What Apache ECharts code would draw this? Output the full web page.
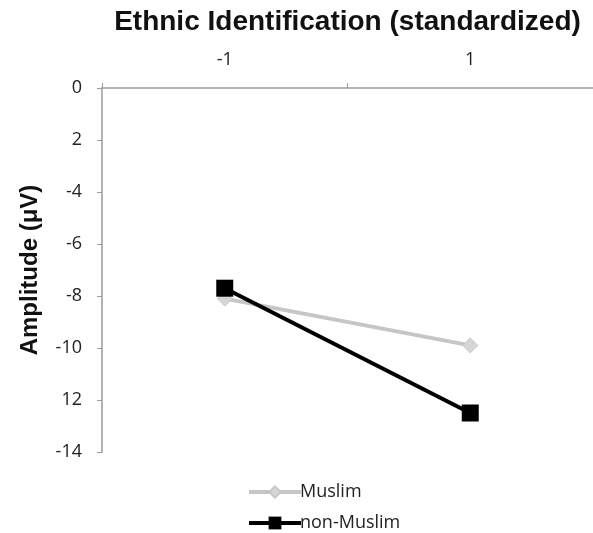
<!DOCTYPE html>
<html><head><meta charset="utf-8">
<script src="https://cdn.jsdelivr.net/npm/echarts@6/dist/echarts.min.js"></script>
<style>html,body{margin:0;padding:0;background:#fff}#c{width:593px;height:533px}</style>
</head><body><div id="c"></div>
<script>
var categories = ['-1', '1'];
var muslim = [-8.1, -9.9];
var nonMuslim = [-7.7, -12.5];
var yTickLabels = {'0':'0','-2':'2','-4':'-4','-6':'-6','-8':'-8','-10':'-10','-12':'12','-14':'-14'};

var legendText = {fontFamily: 'Open Sans', fontSize: 18, color: '#222', padding: [0,0,0,-6]};
var chart = echarts.init(document.getElementById('c'));
chart.setOption({
  animation: false,
  grid: {left: 102, right: 0, top: 88, bottom: 81, outerBoundsMode: 'none', containLabel: false},
  legend: [
    {left: 242, top: 478, itemWidth: 52, itemHeight: 14, itemGap: 4, textStyle: legendText, lineStyle: {width: 4}, data: ['Muslim']},
    {left: 242, top: 509, itemWidth: 52, itemHeight: 16, itemGap: 4, textStyle: legendText, lineStyle: {width: 4}, data: ['non-Muslim']}
  ],
  xAxis: {
    type: 'category', position: 'top', data: categories,
    name: 'Ethnic Identification (standardized)', nameLocation: 'middle', nameGap: 52,
    nameTextStyle: {fontFamily: 'Liberation Sans', fontWeight: 'bold', fontSize: 28, color: '#111'},
    axisLine: {lineStyle: {color: '#9a9a9a', width: 1.5}},
    axisTick: {show: true, length: 5, lineStyle: {color: '#9a9a9a'}},
    axisLabel: {fontFamily: 'Open Sans', fontSize: 18, color: '#222', margin: 19}
  },
  yAxis: {
    type: 'value', min: -14, max: 0, interval: 2,
    name: 'Amplitude (μV)', nameLocation: 'middle', nameGap: 60, nameRotate: 90,
    nameTextStyle: {fontFamily: 'Liberation Sans', fontWeight: 'bold', fontSize: 24, color: '#111'},
    axisLine: {show: true, lineStyle: {color: '#9a9a9a', width: 1.5}},
    axisTick: {show: true, length: 5, lineStyle: {color: '#9a9a9a'}},
    splitLine: {show: false},
    axisLabel: {fontFamily: 'Open Sans', fontSize: 18, color: '#222', margin: 20,
      formatter: function (v) { return yTickLabels[String(v)] !== undefined ? yTickLabels[String(v)] : String(v); }}
  },
  series: [
    {name: 'Muslim', type: 'line', data: muslim, symbol: 'diamond', symbolSize: 15,
     lineStyle: {color: '#c6c6c6', width: 4}, itemStyle: {color: '#d6d6d6', borderColor: '#c6c6c6', borderWidth: 1}, z: 2},
    {name: 'non-Muslim', type: 'line', data: nonMuslim, symbol: 'rect', symbolSize: 17,
     lineStyle: {color: '#000', width: 4}, itemStyle: {color: '#000'}, z: 3}
  ]
});
</script></body></html>
